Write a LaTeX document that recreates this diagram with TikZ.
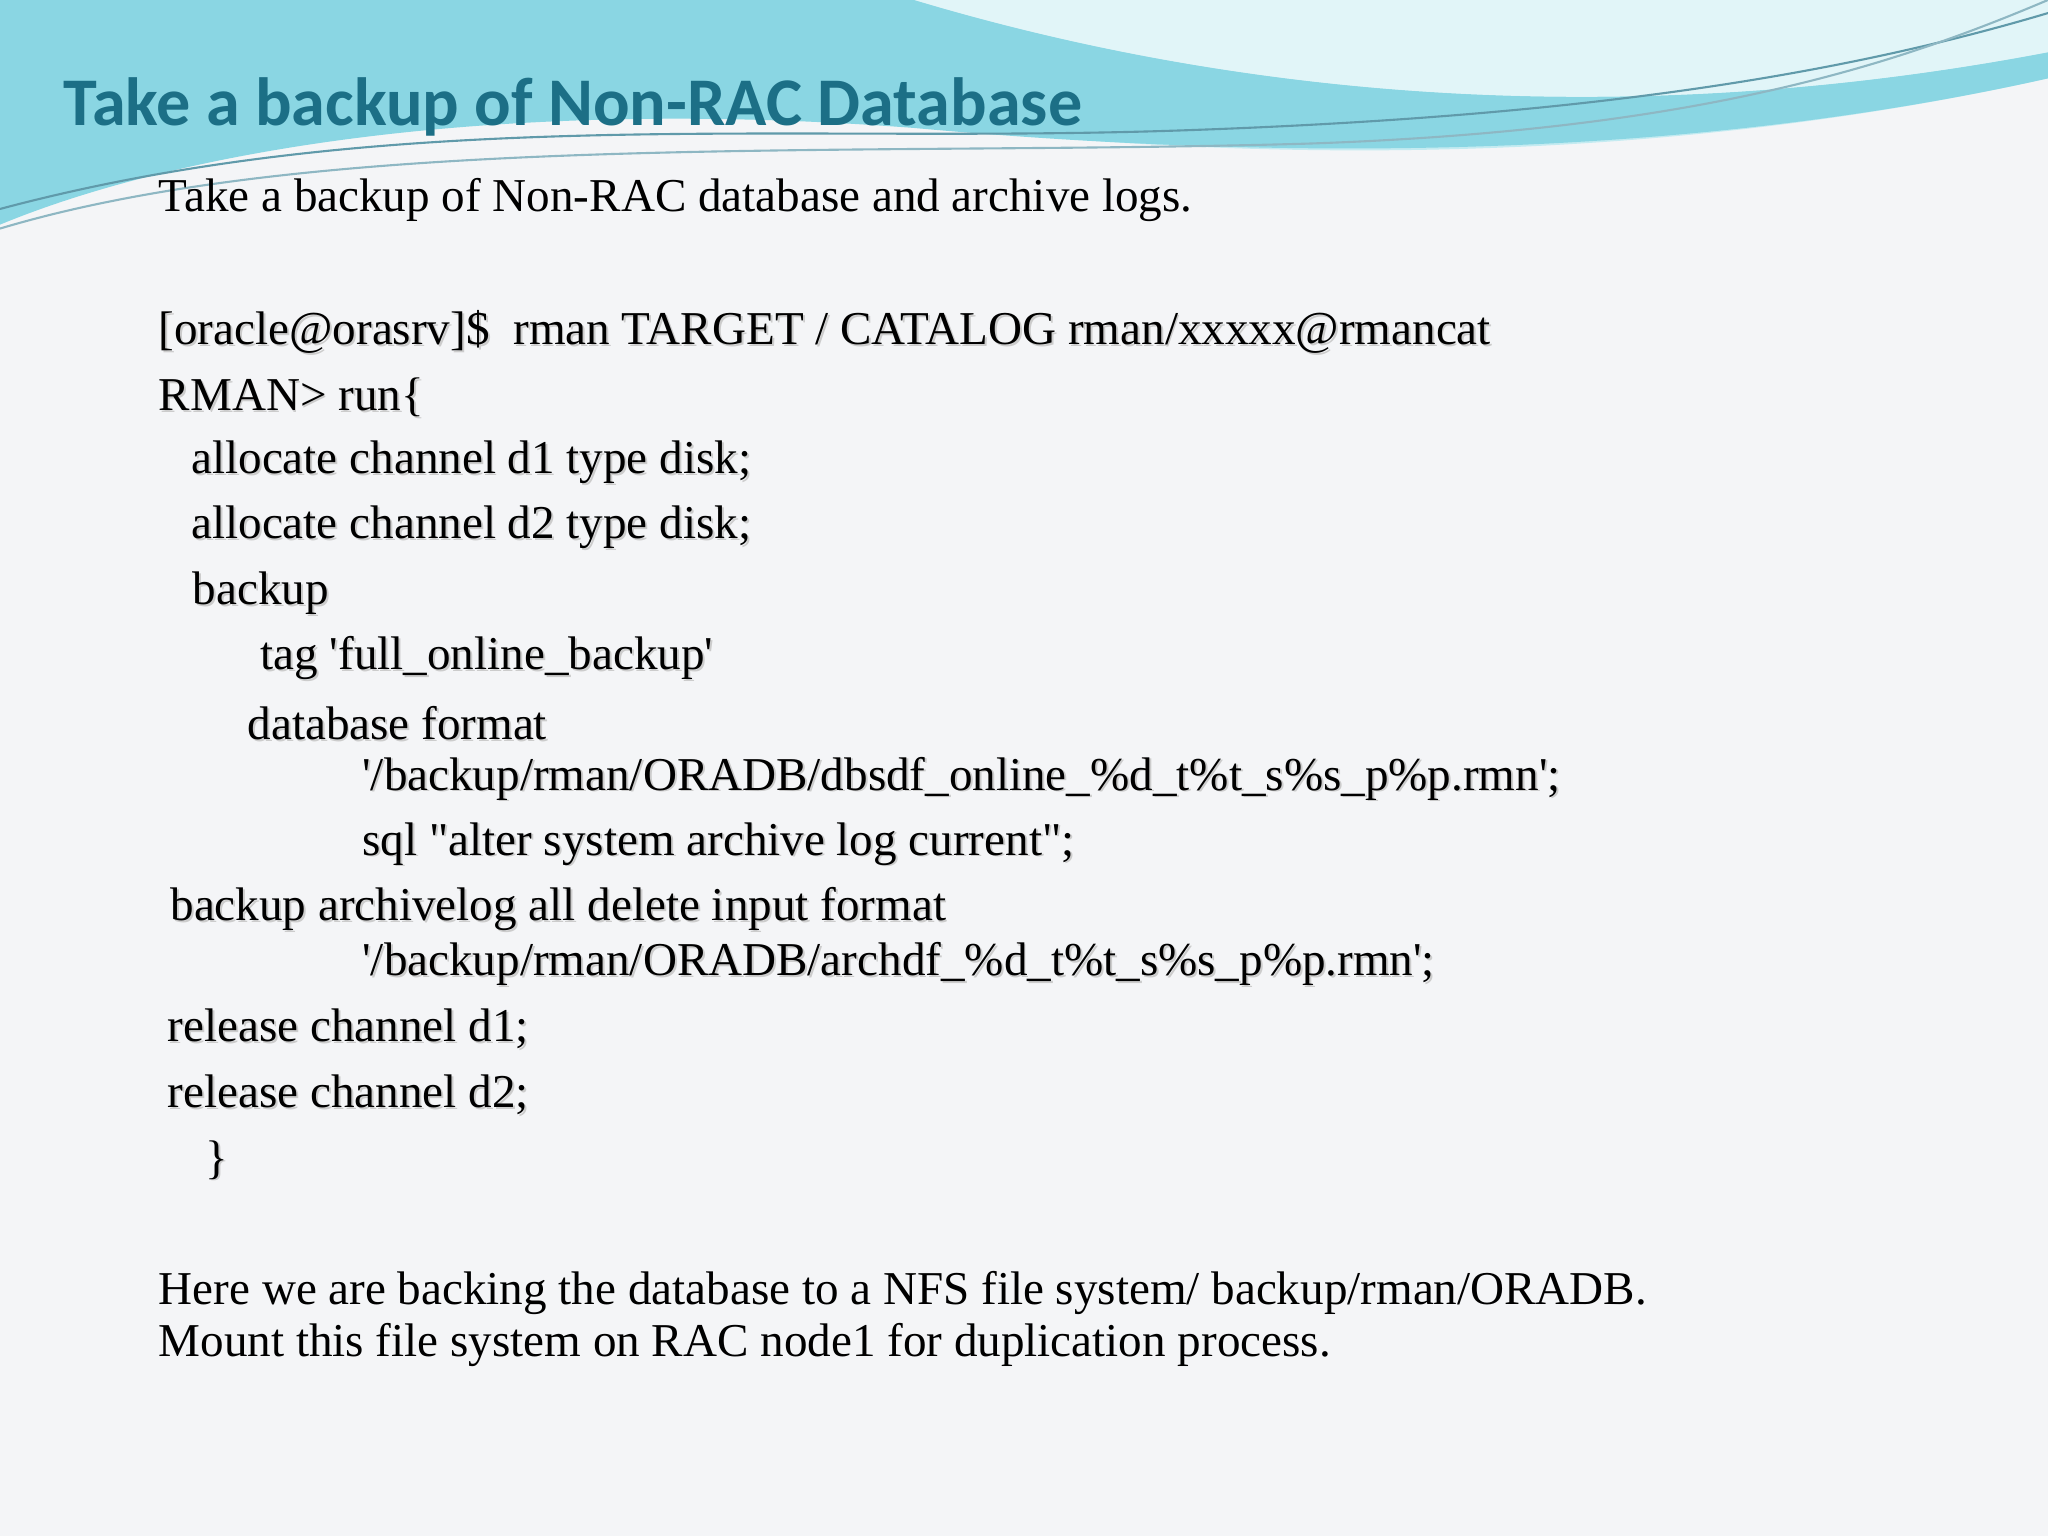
\documentclass[tikz,border=0pt]{standalone}
\usepackage{fontspec}
\setmainfont{Liberation Serif}
\newfontfamily\titlefont{Carlito}
\newcommand{\sq}{\textquotesingle}
\newcommand{\dq}{\textquotedbl}
\definecolor{bg}{HTML}{F4F5F7}
\definecolor{wave1}{HTML}{8AD6E3}
\definecolor{wave2}{HTML}{C4EBF1}
\definecolor{titlec}{HTML}{1C6F86}
\begin{document}
\begin{tikzpicture}[x=0.013061cm,y=-0.013061cm,
  body/.style={anchor=west,inner sep=0pt,font=\fontsize{13.4}{16}\selectfont},
  shadowtxt/.style={anchor=west,inner sep=0pt,font=\fontsize{13.4}{16}\selectfont,text=black!20}]
\fill[bg] (0,0) rectangle (1568,1176);
\useasboundingbox (0,0) rectangle (1568,1176);
% waves
\fill[wave2] (0,0) -- (1568,0) -- (1568,60) .. controls (1300,120) and (1000,130) .. (700,95) .. controls (400,70) and (150,110) .. (0,170) -- cycle;
\fill[wave1] (0,0) -- (700,0) .. controls (900,60) and (1200,110) .. (1568,40) -- (1568,60) .. controls (1300,120) and (1000,125) .. (700,98) .. controls (400,75) and (150,110) .. (0,172) -- cycle;
\fill[white,opacity=0.5] (700,0) .. controls (900,60) and (1200,110) .. (1568,40) -- (1568,0) -- cycle;
\draw[titlec!70,line width=0.6pt] (0,160) .. controls (300,80) and (600,110) .. (900,100) .. controls (1200,90) and (1400,60) .. (1568,10);
\draw[titlec!50,line width=0.6pt] (0,175) .. controls (250,100) and (650,120) .. (1000,110) .. controls (1300,100) and (1450,50) .. (1568,0);
% title
\node[anchor=west,inner sep=0pt,text=titlec,font=\titlefont\bfseries\fontsize{19.4}{24}\selectfont] (title) at (48,82) {Take a backup of Non-RAC Database};
\node[body] (intro) at (121,153) {Take a backup of Non-RAC database and archive logs.};
\foreach \x/\y/\t [count=\i] in {
 121/254/{[oracle@orasrv]\$\ \ rman TARGET / CATALOG rman/xxxxx@rmancat},
 121/304/{RMAN> run\{},
 146/354/{allocate channel d1 type disk;},
 146/404/{allocate channel d2 type disk;},
 147/454/{backup},
 199/504/{tag \sq full\_online\_backup\sq},
 189/554/{database format},
 277/596/{\sq/backup/rman/ORADB/dbsdf\_online\_\%d\_t\%t\_s\%s\_p\%p.rmn\sq;},
 277/646/{sql \dq alter system archive log current\dq;},
 130/696/{backup archivelog all delete input format},
 277/738/{\sq/backup/rman/ORADB/archdf\_\%d\_t\%t\_s\%s\_p\%p.rmn\sq;},
 128/788/{release channel d1;},
 128/838/{release channel d2;},
 157/888/{\}}}{
 \node[shadowtxt] at (\x+1.5,\y+1.5) {\t};
 \node[body] (c\i) at (\x,\y) {\t};
}
\node[body] (n1) at (121,990) {Here we are backing the database to a NFS file system/ backup/rman/ORADB.};
\node[body] (n2) at (121,1030) {Mount this file system on RAC node1 for duplication process.};
\end{tikzpicture}
\end{document}
